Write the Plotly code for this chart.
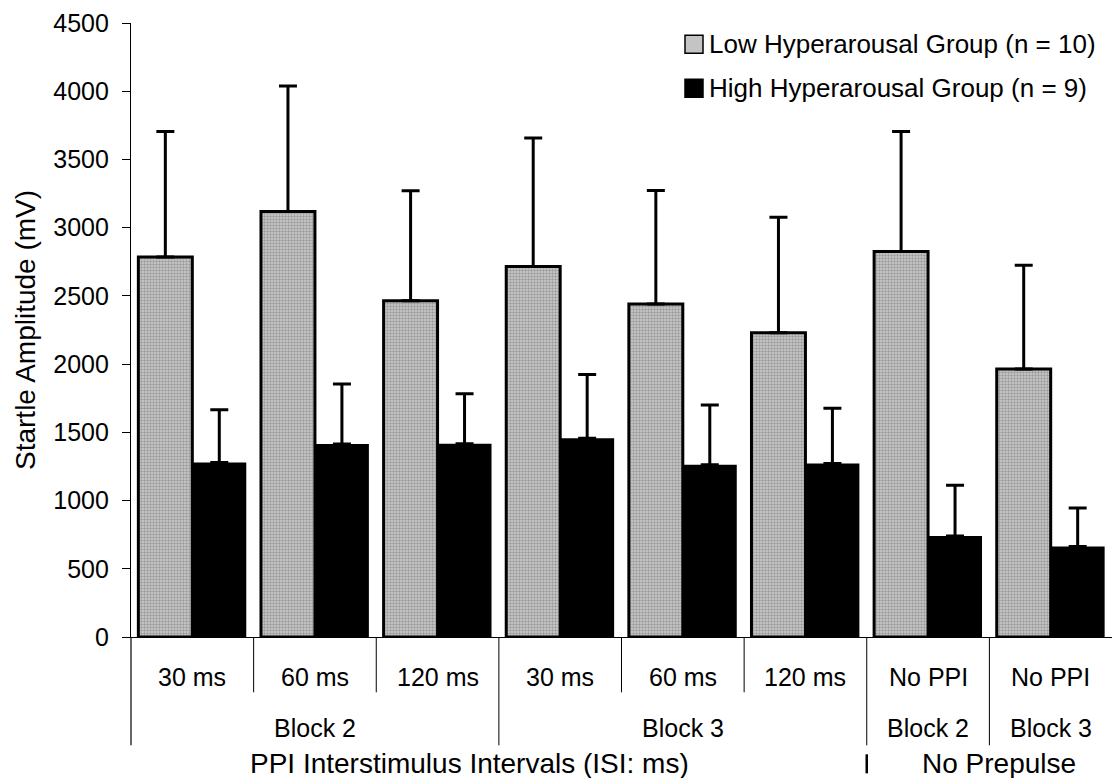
import plotly.graph_objects as go

# Mean startle amplitude (mV) and upper SEM bound per condition
interval_labels = ["30 ms", "60 ms", "120 ms", "30 ms", "60 ms", "120 ms", "No PPI", "No PPI"]
block_labels = ["Block 2", "Block 3", "Block 2", "Block 3"]
block_centers = [1, 4, 6, 7]
section_labels = ["PPI Interstimulus Intervals (ISI: ms)", "No Prepulse"]

low_mean = [2785, 3118, 2465, 2715, 2440, 2230, 2825, 1965]
low_upper = [3705, 4038, 3270, 3657, 3273, 3076, 3704, 2725]
high_mean = [1278, 1415, 1417, 1456, 1263, 1271, 741, 663]
high_upper = [1666, 1854, 1783, 1924, 1700, 1676, 1112, 946]

low_name = "Low Hyperarousal Group (n = 10)"
high_name = "High Hyperarousal Group (n = 9)"

W, H = 1112, 778
L, T, B = 131, 22.7, 141.3
plot_h = H - T - B
zero_px = H - B

FONT = "Liberation Sans, Arial, sans-serif"
GREY_PATTERN = dict(shape=".", fgcolor="#6a6a6a", bgcolor="#cdcdcd", size=3, solidity=0.5)


def py(ypix):
    """Convert a pixel row to paper y."""
    return (zero_px - ypix) / plot_h


def px(xpix):
    """Convert a pixel column to paper x."""
    return (xpix - L) / (W - L)


xs = list(range(len(interval_labels)))
low_err = [u - m for u, m in zip(low_upper, low_mean)]
high_err = [u - m for u, m in zip(high_upper, high_mean)]

fig = go.Figure()
fig.add_bar(
    x=xs, y=low_mean, name=low_name, showlegend=False,
    marker=dict(color="#c4c4c4", line=dict(color="black", width=3), pattern=GREY_PATTERN),
    error_y=dict(type="data", symmetric=False, array=low_err, arrayminus=[0] * len(xs),
                 color="black", thickness=3, width=9),
)
fig.add_bar(
    x=xs, y=high_mean, name=high_name, showlegend=False,
    marker=dict(color="black", line=dict(color="black", width=0)),
    error_y=dict(type="data", symmetric=False, array=high_err, arrayminus=[0] * len(xs),
                 color="black", thickness=3, width=9),
)

shapes = []
annotations = []

# Category dividers below the axis: short within a block, long between blocks
long_divs = {2, 5, 6}
for i in range(len(xs) - 1):
    bottom = 745 if i in long_divs else 692
    shapes.append(dict(type="line", xref="paper", yref="paper",
                       x0=(i + 1) / len(xs), x1=(i + 1) / len(xs),
                       y0=0, y1=py(bottom), line=dict(color="black", width=1)))
# left axis extension through the label rows
shapes.append(dict(type="line", xref="paper", yref="paper", x0=0, x1=0,
                   y0=0, y1=py(745), line=dict(color="black", width=1.2)))
# separator mark between the two sections
shapes.append(dict(type="line", xref="paper", yref="paper",
                   x0=6 / len(xs), x1=6 / len(xs), y0=py(754), y1=py(773),
                   line=dict(color="black", width=2.5)))

for i, lab in enumerate(interval_labels):
    annotations.append(dict(x=i, y=py(676.7), xref="x", yref="paper", text=lab,
                            showarrow=False, font=dict(size=25, family=FONT, color="black"),
                            xanchor="center", yanchor="middle"))
for c, lab in zip(block_centers, block_labels):
    annotations.append(dict(x=c, y=py(728), xref="x", yref="paper", text=lab,
                            showarrow=False, font=dict(size=25, family=FONT, color="black"),
                            xanchor="center", yanchor="middle"))
for c, lab in zip([2.26, 6.58], section_labels):
    annotations.append(dict(x=c, y=py(763), xref="x", yref="paper", text=lab,
                            showarrow=False, font=dict(size=28, family=FONT, color="black"),
                            xanchor="center", yanchor="middle"))

# y-axis title
annotations.append(dict(x=px(25), y=0.5, xref="paper", yref="paper",
                        text="Startle Amplitude (mV)", textangle=-90, showarrow=False,
                        font=dict(size=28, family=FONT, color="black"),
                        xanchor="center", yanchor="middle"))

# legend entries
legend_rows = [(low_name, 44, "#c4c4c4"), (high_name, 88, "black")]
for name, yrow, fill in legend_rows:
    shapes.append(dict(type="rect", xref="paper", yref="paper",
                       x0=px(685), x1=px(703), y0=py(yrow - 9), y1=py(yrow + 9),
                       fillcolor=fill, line=dict(color="black", width=1.5)))
    annotations.append(dict(x=px(707), y=py(yrow), xref="paper", yref="paper", text=name,
                            showarrow=False, font=dict(size=26, family=FONT, color="black"),
                            xanchor="left", yanchor="middle"))

fig.update_layout(
    width=W, height=H,
    margin=dict(l=L, r=0, t=T, b=B, pad=0),
    paper_bgcolor="white", plot_bgcolor="white",
    barmode="group", bargap=0.12, bargroupgap=0,
    font=dict(family=FONT, color="black"),
    shapes=shapes, annotations=annotations,
    showlegend=False,
)
fig.update_xaxes(range=[-0.5, len(xs) - 0.5], showticklabels=False, ticks="",
                 showline=True, linecolor="black", linewidth=1.2, showgrid=False,
                 zeroline=False)
fig.update_yaxes(range=[0, 4500], dtick=500, tick0=0, ticks="outside", ticklen=8,
                 tickcolor="black", tickwidth=1, showline=True, linecolor="black",
                 linewidth=1.2, showgrid=False, zeroline=False, ticklabelstandoff=8,
                 tickfont=dict(size=25, family=FONT, color="black"))

fig.write_html("out.html")
